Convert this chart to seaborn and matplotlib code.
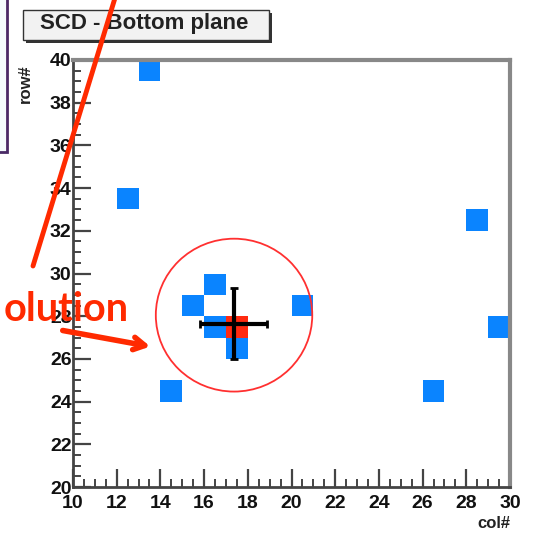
import matplotlib
matplotlib.use("Agg")
import matplotlib.pyplot as plt
import seaborn as sns
import pandas as pd
from matplotlib.colors import ListedColormap
from matplotlib.patches import Ellipse, Rectangle
from matplotlib.lines import Line2D

# ---- data ----
hit_cols = [13.5, 12.5, 28.5, 29.5, 14.5, 26.5, 20.5, 15.5, 16.5, 16.5, 17.5, 17.5]
hit_rows = [39.5, 33.5, 32.5, 27.5, 24.5, 24.5, 28.5, 28.5, 29.5, 27.5, 27.5, 26.5]
hit_weights = [1, 1, 1, 1, 1, 1, 1, 1, 1, 1, 2, 1]
centroid_col = [17.35]
centroid_row = [27.65]
centroid_col_err = [1.55]
centroid_row_err = [1.65]
circle_center = (17.37, 28.05)
circle_radius = 3.58
x_ticks = [10, 12, 14, 16, 18, 20, 22, 24, 26, 28, 30]
y_ticks = [20, 22, 24, 26, 28, 30, 32, 34, 36, 38, 40]
title_text = "SCD - Bottom plane"
x_label = "col#"
y_label = "row#"
note_text = "olution"

df = pd.DataFrame({"col": hit_cols, "row": hit_rows, "w": hit_weights})

sns.set_style("white")
plt.rcParams["font.family"] = ["Liberation Sans", "DejaVu Sans"]

W, H = 535, 538
fig = plt.figure(figsize=(W / 100, H / 100), dpi=100)
fig.patch.set_facecolor("white")

def fx(px):
    return px / W

def fy(py):
    return 1 - py / H

ax = fig.add_axes([fx(73), fy(487), fx(510) - fx(73), fy(60) - fy(487)])

cmap = ListedColormap(["#0a84ff", "#ff2a10"])
sns.histplot(data=df, x="col", y="row", weights="w", binwidth=1,
             binrange=((10, 30), (20, 40)), cmap=cmap, vmin=0.5, vmax=2.5,
             ax=ax, zorder=2)

ax.errorbar(centroid_col, centroid_row, xerr=centroid_col_err, yerr=centroid_row_err,
            fmt="none", ecolor="black", elinewidth=3, capsize=3, capthick=2, zorder=4)

ax.add_patch(Ellipse(circle_center, 2 * circle_radius, 2 * circle_radius * 1.0,
                     fill=False, edgecolor="#ff3030", lw=1.3, zorder=5))

ax.set_xlim(10, 30)
ax.set_ylim(20, 40)
ax.set_xticks(x_ticks)
ax.set_yticks(y_ticks)
ax.set_xticks([v / 2 for v in range(20, 61)], minor=True)
ax.set_yticks([v / 2 for v in range(40, 81)], minor=True)
ax.tick_params(which="major", direction="in", length=13, width=1.6, color="#444444",
               labelsize=14, left=True, bottom=True, top=False, right=False)
ax.tick_params(axis="y", which="major", pad=1)
ax.tick_params(axis="x", which="major", pad=6)
ax.tick_params(which="minor", direction="in", length=6, width=1.4, color="#444444",
               left=True, bottom=True, top=False, right=False)
for lab in ax.get_xticklabels() + ax.get_yticklabels():
    lab.set_fontweight("bold")
    lab.set_color("#111111")
ax.set_xlabel("")
ax.set_ylabel("")
for s in ["left", "bottom"]:
    ax.spines[s].set_color("#444444")
    ax.spines[s].set_linewidth(2)
for s in ["top", "right"]:
    ax.spines[s].set_color("#888888")
    ax.spines[s].set_linewidth(3)

fig.text(fx(510), fy(523), x_label, ha="right", va="center", fontsize=12,
         fontweight="bold", color="#222222")
fig.text(fx(25), fy(84), y_label, ha="center", va="center", fontsize=12,
         fontweight="bold", color="#222222", rotation=90)

# title box with shadow
fig.patches.append(Rectangle((fx(26), fy(43)), fx(246), fy(10) - fy(40),
                             transform=fig.transFigure, facecolor="#333333",
                             edgecolor="none", zorder=1))
fig.patches.append(Rectangle((fx(23), fy(40)), fx(246), fy(10) - fy(40),
                             transform=fig.transFigure, facecolor="#f2f2f2",
                             edgecolor="#333333", lw=1, zorder=2))
fig.text(fx(144), fy(24), title_text, ha="center", va="center", fontsize=16,
         fontweight="bold", color="#222222", zorder=3)

# purple annotation box (top-left, cut off)
fig.patches.append(Rectangle((fx(-20), fy(152)), fx(27), fy(-5) - fy(152),
                             transform=fig.transFigure, facecolor="#f4fcfd",
                             edgecolor="#4a2a66", lw=2, zorder=1))

# red annotations
fig.add_artist(Line2D([fx(115), fx(33)], [fy(-2), fy(266)], color="#ff2a00", lw=3.5,
                      transform=fig.transFigure, zorder=6))
fig.text(fx(129), fy(321), note_text, ha="right", va="baseline", fontsize=28.5,
         fontweight="bold", color="#ff2a00", family=["Lato", "DejaVu Sans"], zorder=6)
ax.annotate("", xy=(fx(153), fy(347)), xytext=(fx(60), fy(330)),
            xycoords="figure fraction", textcoords="figure fraction",
            arrowprops=dict(arrowstyle="->,head_length=0.8,head_width=0.45",
                            color="#ff2a00", lw=4), zorder=6, annotation_clip=False)

fig.savefig("out.png", dpi=100)
